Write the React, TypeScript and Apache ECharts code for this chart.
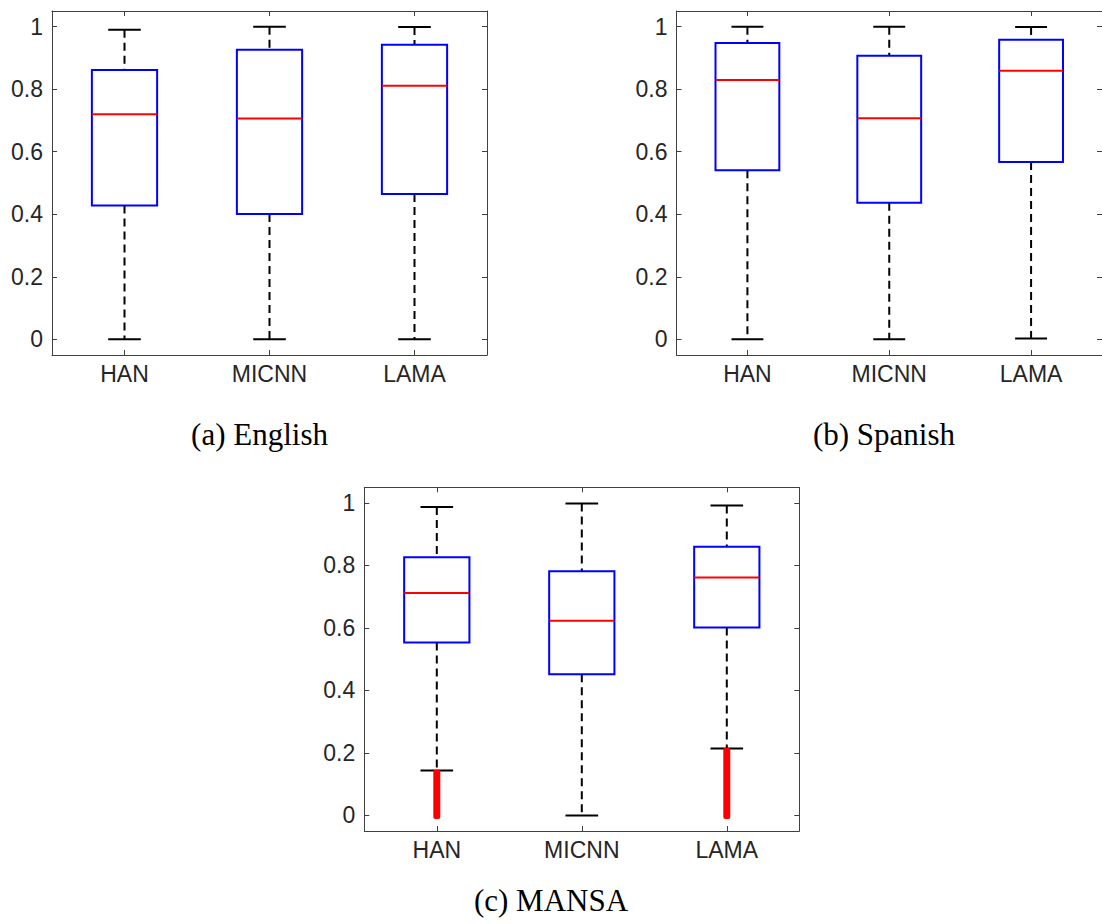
import React, { useEffect, useRef } from "react";
import * as echarts from "echarts";

// Model names on the x axis of every panel
const categories = ["HAN", "MICNN", "LAMA"];
// Y tick positions shared by the three panels
const yTicks = [0, 0.2, 0.4, 0.6, 0.8, 1];
const panelTitles = ["(a) English", "(b) Spanish", "(c) MANSA"];

// Box statistics per model: [lower whisker, Q1, median, Q3, upper whisker]
const englishStats = [
  [0, 0.428, 0.72, 0.861, 0.99],
  [0, 0.401, 0.706, 0.926, 1.0],
  [0, 0.465, 0.811, 0.942, 0.999],
];
const spanishStats = [
  [0, 0.541, 0.829, 0.948, 1.0],
  [0, 0.437, 0.707, 0.907, 1.0],
  [0.003, 0.567, 0.859, 0.958, 0.999],
];
const mansaStats = [
  [0.144, 0.553, 0.712, 0.826, 0.987],
  [0, 0.452, 0.623, 0.781, 0.998],
  [0.214, 0.601, 0.761, 0.86, 0.992],
];
// Outlier spans (dense '+' markers): [model index, lowest outlier, highest outlier]
const mansaOutlierRanges = [
  [0, 0.0, 0.135],
  [2, 0.0, 0.205],
];

const AXIS_COLOR = "#262626";
const FRAME_COLOR = "#404040";

function renderBox(_params: any, api: any) {
  const c = api.value(0);
  const pLo = api.coord([c, api.value(1)]);
  const pQ1 = api.coord([c, api.value(2)]);
  const pMed = api.coord([c, api.value(3)]);
  const pQ3 = api.coord([c, api.value(4)]);
  const pHi = api.coord([c, api.value(5)]);
  const band = api.size([1, 0])[0];
  const bw = band * 0.45;
  const cw = bw / 2;
  const x = pQ1[0];
  const dash = { stroke: "#000", lineWidth: 2, lineDash: [8, 5], fill: "none" };
  const solid = { stroke: "#000", lineWidth: 2, fill: "none" };
  return {
    type: "group",
    children: [
      { type: "line", shape: { x1: x, y1: pHi[1], x2: x, y2: pQ3[1] }, style: dash },
      { type: "line", shape: { x1: x, y1: pQ1[1], x2: x, y2: pLo[1] }, style: dash },
      { type: "line", shape: { x1: x - cw / 2, y1: pHi[1], x2: x + cw / 2, y2: pHi[1] }, style: solid },
      { type: "line", shape: { x1: x - cw / 2, y1: pLo[1], x2: x + cw / 2, y2: pLo[1] }, style: solid },
      {
        type: "rect",
        shape: { x: x - bw / 2, y: pQ3[1], width: bw, height: pQ1[1] - pQ3[1] },
        style: { fill: "none", stroke: "#0000ff", lineWidth: 2 },
      },
      {
        type: "line",
        shape: { x1: x - bw / 2, y1: pMed[1], x2: x + bw / 2, y2: pMed[1] },
        style: { stroke: "#ff0000", lineWidth: 2 },
      },
    ],
  };
}

function renderOutliers(_params: any, api: any) {
  const c = api.value(0);
  const pLo = api.coord([c, api.value(1)]);
  const pHi = api.coord([c, api.value(2)]);
  const w = 7;
  const ext = 3.5;
  return {
    type: "rect",
    shape: { x: pLo[0] - w / 2, y: pHi[1] - ext, width: w, height: pLo[1] - pHi[1] + 2 * ext, r: 2 },
    style: { fill: "#ff0000" },
  };
}

const grids = [
  { left: 52, top: 11, width: 435, height: 344 },
  { left: 676.5, top: 11, width: 435, height: 344 },
  { left: 364.3, top: 487.3, width: 435, height: 343.7 },
];

export default function App() {
  const ref = useRef<HTMLDivElement>(null);

  useEffect(() => {
    document.body.style.margin = "0";
    if (!ref.current) return;
    const chart = echarts.init(ref.current, undefined, { renderer: "svg" });

    const frameLine = { show: true, onZero: false, lineStyle: { color: FRAME_COLOR, width: 1 } };
    const labelFont = "Liberation Sans, Arial, sans-serif";

    const xAxes: any[] = [];
    const yAxes: any[] = [];
    grids.forEach((_, i) => {
      xAxes.push({
        type: "category",
        gridIndex: i,
        data: categories,
        position: "bottom",
        boundaryGap: true,
        axisLine: frameLine,
        axisTick: { show: true, inside: true, alignWithLabel: true, length: 5, lineStyle: { color: FRAME_COLOR } },
        axisLabel: { color: AXIS_COLOR, fontSize: 23, fontFamily: labelFont, margin: 7 },
        splitLine: { show: false },
      });
      xAxes.push({
        type: "category",
        gridIndex: i,
        data: categories,
        position: "top",
        boundaryGap: true,
        axisLine: frameLine,
        axisTick: { show: true, inside: true, alignWithLabel: true, length: 5, lineStyle: { color: FRAME_COLOR } },
        axisLabel: { show: false },
        splitLine: { show: false },
      });
      yAxes.push({
        type: "value",
        gridIndex: i,
        min: -0.05,
        max: 1.05,
        position: "left",
        axisLine: frameLine,
        axisTick: { show: true, inside: true, length: 5, customValues: yTicks, lineStyle: { color: FRAME_COLOR } },
        axisLabel: {
          color: AXIS_COLOR,
          fontSize: 23,
          fontFamily: labelFont,
          margin: 9,
          customValues: yTicks,
          formatter: (v: number) => String(Math.round(v * 10) / 10),
        },
        splitLine: { show: false },
      });
      yAxes.push({
        type: "value",
        gridIndex: i,
        min: -0.05,
        max: 1.05,
        position: "right",
        axisLine: frameLine,
        axisTick: { show: true, inside: true, length: 5, customValues: yTicks, lineStyle: { color: FRAME_COLOR } },
        axisLabel: { show: false },
        splitLine: { show: false },
      });
    });

    const statsSets = [englishStats, spanishStats, mansaStats];
    const series: any[] = statsSets.map((stats, i) => ({
      type: "custom",
      xAxisIndex: i * 2,
      yAxisIndex: i * 2,
      renderItem: renderBox,
      encode: { x: 0, y: [1, 2, 3, 4, 5] },
      data: stats.map((s, k) => [k, ...s]),
      clip: false,
      silent: true,
    }));
    series.push({
      type: "custom",
      xAxisIndex: 4,
      yAxisIndex: 4,
      renderItem: renderOutliers,
      encode: { x: 0, y: [1, 2] },
      data: mansaOutlierRanges,
      clip: false,
      silent: true,
    });

    const titlePos = [
      [259.5, 434],
      [884, 434],
      [551, 900],
    ];

    chart.setOption({
      animation: false,
      backgroundColor: "#ffffff",
      grid: grids.map((g) => ({ ...g, show: false, containLabel: false })),
      xAxis: xAxes,
      yAxis: yAxes,
      series,
      graphic: panelTitles.map((t, i) => ({
        type: "text",
        x: titlePos[i][0],
        y: titlePos[i][1],
        style: {
          text: t,
          fill: "#000",
          font: "31px 'Liberation Serif', 'Times New Roman', serif",
          textAlign: "center",
          textVerticalAlign: "middle",
        },
      })),
    });

    return () => {
      chart.dispose();
    };
  }, []);

  return <div ref={ref} style={{ width: 1102, height: 924 }} />;
}
